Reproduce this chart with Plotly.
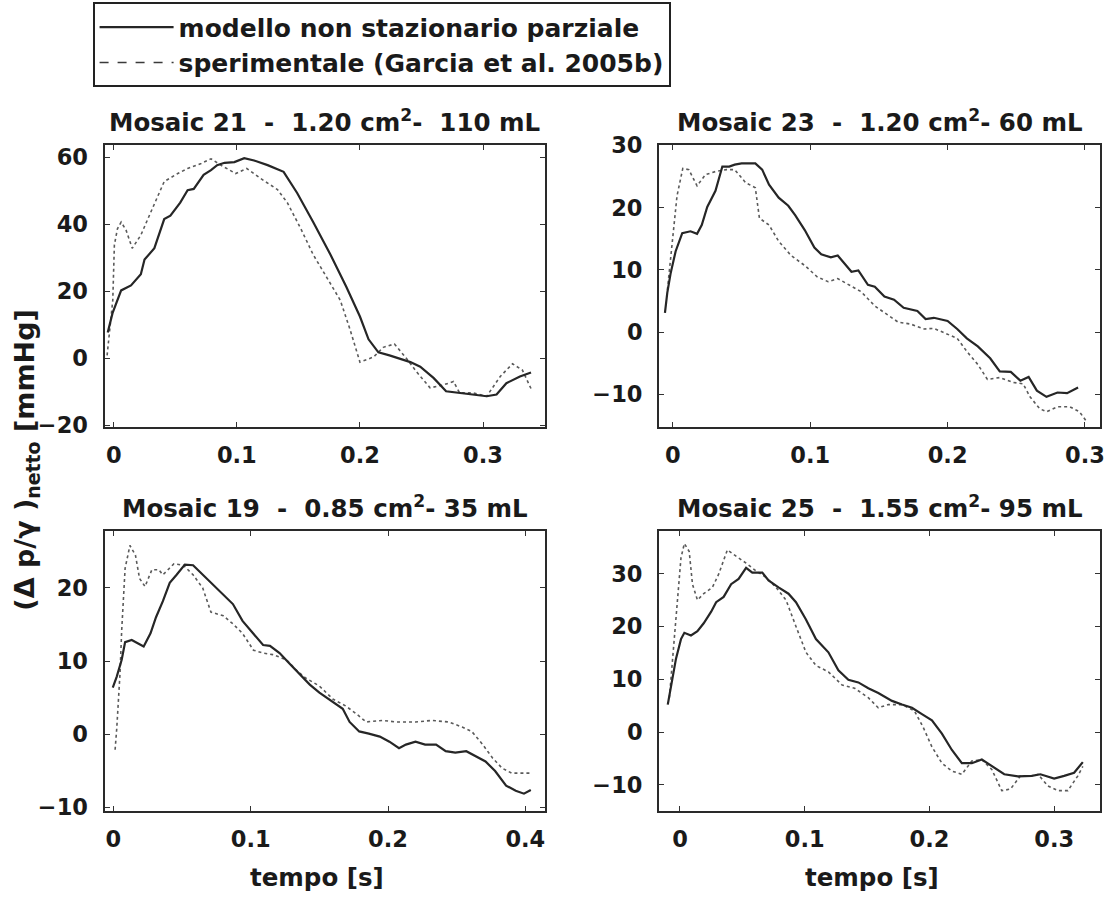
import plotly.graph_objects as go

# ---------------- data ----------------
# Mosaic 21
a_model_t = [-0.0049, -0.001, 0.006, 0.014, 0.022, 0.025, 0.033, 0.041, 0.046, 0.054, 0.060, 0.065, 0.073, 0.079,
             0.084, 0.090, 0.098, 0.106, 0.114, 0.125, 0.138, 0.149, 0.162, 0.176, 0.189, 0.200, 0.207, 0.215,
             0.224, 0.233, 0.241, 0.249, 0.260, 0.270, 0.281, 0.292, 0.303, 0.311, 0.319, 0.330, 0.339]
a_model_p = [7.6, 13.4, 20.2, 21.7, 25.0, 29.4, 32.8, 41.5, 42.5, 46.4, 50.1, 50.5, 54.7, 56.1,
             57.6, 58.3, 58.5, 59.7, 59.0, 57.6, 55.6, 49.3, 40.6, 30.9, 21.2, 12.4, 5.6, 1.7,
             0.8, -0.2, -1.2, -2.6, -6.0, -9.9, -10.4, -10.9, -11.4, -10.9, -7.5, -5.5, -4.3]
a_exp_t = [-0.0054, -0.0035, -0.0008, 0.0005, 0.003, 0.006, 0.010, 0.015, 0.022, 0.030, 0.036, 0.041, 0.052, 0.060,
           0.071, 0.079, 0.087, 0.099, 0.108, 0.119, 0.133, 0.141, 0.152, 0.162, 0.173, 0.184, 0.192, 0.200,
           0.211, 0.219, 0.228, 0.238, 0.246, 0.257, 0.268, 0.276, 0.281, 0.292, 0.303, 0.314, 0.324, 0.332, 0.340]
a_exp_p = [0.8, 7.6, 17.3, 33.8, 38.6, 40.6, 38.2, 32.8, 36.7, 43.5, 48.3, 52.7, 55.1, 56.6,
           58.1, 59.5, 57.6, 55.1, 56.6, 53.7, 50.3, 46.4, 38.6, 30.9, 24.1, 17.3, 8.5, -1.2,
           0.3, 3.2, 4.2, -0.2, -4.1, -8.9, -8.0, -7.0, -10.4, -10.4, -11.4, -5.5, -1.7, -3.6, -9.9]

# Mosaic 23
b_model_t = [-0.0058, -0.0041, -0.0017, 0.002, 0.0068, 0.0128, 0.0176, 0.021, 0.025, 0.031, 0.036, 0.041, 0.045,
             0.050, 0.060, 0.065, 0.070, 0.077, 0.084, 0.089, 0.096, 0.103, 0.108, 0.115, 0.120, 0.125, 0.130,
             0.135, 0.142, 0.147, 0.154, 0.161, 0.168, 0.178, 0.184, 0.190, 0.200, 0.207, 0.214, 0.222, 0.231,
             0.238, 0.246, 0.253, 0.259, 0.265, 0.272, 0.280, 0.287, 0.295]
b_model_p = [3.1, 6.3, 9.4, 13.0, 15.9, 16.2, 15.8, 17.2, 20.1, 22.7, 26.6, 26.6, 26.9,
             27.1, 27.1, 26.1, 23.7, 21.6, 20.3, 18.8, 16.4, 13.6, 12.5, 12.0, 12.3, 11.0, 9.7,
             9.9, 7.6, 7.3, 5.7, 5.2, 3.9, 3.4, 2.1, 2.3, 1.8, 0.5, -1.0, -2.3, -4.2,
             -6.3, -6.4, -7.8, -7.2, -9.4, -10.4, -9.7, -9.8, -8.9]
b_exp_t = [-0.004, -0.0005, 0.003, 0.0072, 0.0116, 0.0176, 0.0237, 0.031, 0.039, 0.045, 0.053, 0.060, 0.063,
           0.070, 0.077, 0.086, 0.096, 0.105, 0.113, 0.120, 0.130, 0.137, 0.147, 0.154, 0.164, 0.173, 0.183,
           0.190, 0.200, 0.207, 0.214, 0.222, 0.229, 0.238, 0.248, 0.255, 0.260, 0.267, 0.272, 0.280, 0.289,
           0.296, 0.301]
b_exp_p = [6.8, 14.1, 21.9, 26.3, 26.1, 23.5, 25.3, 25.8, 26.1, 26.1, 24.0, 23.2, 18.3,
           17.2, 14.6, 12.3, 10.7, 8.9, 8.1, 8.6, 7.3, 6.5, 4.2, 3.1, 1.6, 1.3, 0.5,
           0.6, -0.3, -1.0, -3.1, -5.2, -7.6, -7.3, -8.1, -8.3, -10.4, -12.3, -12.8, -12.0, -12.0,
           -12.8, -14.3]

# Mosaic 19
c_model_t = [-0.0005, 0.0024, 0.006, 0.0085, 0.0133, 0.018, 0.022, 0.027, 0.031, 0.036, 0.041, 0.046, 0.052,
             0.058, 0.065, 0.073, 0.080, 0.087, 0.094, 0.102, 0.109, 0.114, 0.121, 0.128, 0.136, 0.143, 0.150,
             0.157, 0.167, 0.172, 0.179, 0.186, 0.194, 0.201, 0.208, 0.213, 0.220, 0.227, 0.235, 0.242, 0.249,
             0.257, 0.264, 0.271, 0.278, 0.286, 0.293, 0.299, 0.304]
c_model_p = [6.4, 7.9, 10.2, 12.6, 12.9, 12.4, 12.0, 13.8, 16.0, 18.2, 20.7, 21.8, 23.2,
             23.1, 21.8, 20.4, 19.1, 17.8, 15.5, 13.8, 12.2, 12.1, 11.1, 9.7, 8.2, 6.8, 5.7,
             4.8, 3.5, 1.7, 0.4, 0.1, -0.3, -1.0, -1.9, -1.4, -1.0, -1.4, -1.4, -2.3, -2.5,
             -2.3, -3.0, -3.7, -5.0, -7.0, -7.7, -8.1, -7.6]
c_exp_t = [0.0012, 0.0024, 0.0048, 0.006, 0.0085, 0.012, 0.016, 0.019, 0.023, 0.028, 0.033, 0.036, 0.044,
           0.051, 0.058, 0.065, 0.071, 0.080, 0.087, 0.094, 0.102, 0.109, 0.116, 0.126, 0.133, 0.140, 0.150,
           0.160, 0.169, 0.177, 0.184, 0.196, 0.206, 0.220, 0.232, 0.244, 0.254, 0.261, 0.269, 0.276, 0.283,
           0.290, 0.298, 0.304]
c_exp_p = [-2.1, 0.8, 8.4, 14.2, 22.7, 25.8, 24.5, 21.3, 20.2, 22.5, 22.5, 21.8, 23.3,
           23.1, 21.8, 20.0, 16.7, 16.2, 15.1, 13.8, 11.5, 11.1, 10.9, 10.2, 8.8, 7.7, 6.6,
           4.8, 3.9, 2.8, 1.7, 1.9, 1.7, 1.7, 1.9, 1.7, 1.0, 0.4, -1.4, -3.2, -4.6,
           -5.3, -5.3, -5.3]

# Mosaic 25
d_model_t = [-0.0098, -0.0072, -0.0032, 0.0008, 0.0035, 0.0088, 0.014, 0.019, 0.025, 0.029, 0.035, 0.041, 0.047,
             0.053, 0.058, 0.066, 0.071, 0.079, 0.087, 0.093, 0.101, 0.109, 0.114, 0.119, 0.127, 0.135, 0.143,
             0.151, 0.159, 0.170, 0.178, 0.186, 0.194, 0.202, 0.210, 0.218, 0.226, 0.234, 0.242, 0.252, 0.260,
             0.271, 0.282, 0.289, 0.300, 0.308, 0.316, 0.323]
d_model_p = [5.2, 8.9, 13.9, 17.6, 18.8, 18.3, 19.1, 20.6, 22.8, 24.6, 25.6, 28.0, 29.0,
             31.1, 30.2, 30.2, 28.7, 27.4, 26.2, 24.6, 21.3, 17.6, 16.3, 15.1, 11.7, 9.9, 9.4,
             8.3, 7.4, 5.9, 5.2, 4.6, 3.4, 2.2, -0.3, -3.4, -5.9, -5.9, -5.2, -6.8, -8.0,
             -8.4, -8.3, -8.0, -8.8, -8.3, -7.7, -5.7]
d_exp_t = [-0.0085, -0.0059, -0.0037, -0.0019, 0.0008, 0.0035, 0.0074, 0.010, 0.014, 0.019, 0.026, 0.031, 0.038,
           0.045, 0.053, 0.061, 0.069, 0.077, 0.085, 0.093, 0.101, 0.109, 0.119, 0.130, 0.140, 0.151, 0.159,
           0.167, 0.178, 0.188, 0.195, 0.202, 0.210, 0.218, 0.226, 0.234, 0.242, 0.250, 0.258, 0.265, 0.273,
           0.282, 0.287, 0.295, 0.303, 0.311, 0.319, 0.323]
d_exp_p = [6.5, 13.9, 19.4, 26.2, 33.0, 35.7, 34.2, 28.0, 25.0, 26.2, 27.4, 29.9, 34.5,
           33.3, 32.0, 30.5, 29.3, 27.4, 25.0, 20.0, 15.1, 12.6, 11.4, 8.9, 8.3, 6.5, 4.6,
           5.2, 5.2, 4.0, 0.9, -2.8, -5.9, -7.4, -8.0, -5.5, -5.2, -7.1, -11.1, -10.8, -8.3,
           -8.3, -8.0, -10.2, -11.1, -11.1, -8.3, -6.5]

panel_titles = [
    "Mosaic 21\u00a0\u00a0-\u00a0\u00a01.20 cm<sup>2</sup>-\u00a0\u00a0110 mL",
    "Mosaic 23\u00a0\u00a0-\u00a0\u00a01.20 cm<sup>2</sup>- 60\u00a0mL",
    "Mosaic 19\u00a0\u00a0-\u00a0\u00a00.85 cm<sup>2</sup>- 35 mL",
    "Mosaic 25\u00a0\u00a0-\u00a0\u00a01.55 cm<sup>2</sup>- 95 mL",
]
series_names = ["modello non stazionario parziale", "sperimentale (Garcia et al. 2005b)"]
x_tickvals = [0, 0.1, 0.2, 0.3]
x_ticktext = [["0", "0.1", "0.2", "0.3"], ["0", "0.1", "0.2", "0.3"],
              ["0", "0.1", "0.2", "0.4"], ["0", "0.1", "0.2", "0.3"]]
y_tickvals = [[-20, 0, 20, 40, 60], [-10, 0, 10, 20, 30], [-10, 0, 10, 20], [-10, 0, 10, 20, 30]]
x_ranges = [[-0.0075, 0.35], [-0.0101, 0.311], [-0.0065, 0.314], [-0.0168, 0.3368]]
y_ranges = [[-20.5, 63.5], [-15.2, 30.0], [-10.5, 27.8], [-15.0, 38.1]]

panels = [
    (a_model_t, a_model_p, a_exp_t, a_exp_p),
    (b_model_t, b_model_p, b_exp_t, b_exp_p),
    (c_model_t, c_model_p, c_exp_t, c_exp_p),
    (d_model_t, d_model_p, d_exp_t, d_exp_p),
]

# ---------------- layout geometry ----------------
W, H = 1116, 904
x_doms = [[105 / W, 547 / W], [662 / W, 1105 / W], [105 / W, 547 / W], [662 / W, 1105 / W]]
y_doms = [[1 - 425 / H, 1 - 136 / H], [1 - 425 / H, 1 - 136 / H],
          [1 - 820 / H, 1 - 532 / H], [1 - 820 / H, 1 - 532 / H]]
title_y_px = [111, 111, 507, 507]

FONT = "DejaVu Sans"
TXT = "#1a1a1a"

fig = go.Figure()
for i, (mt, mp, et, ep) in enumerate(panels):
    suffix = "" if i == 0 else str(i + 1)
    fig.add_trace(go.Scatter(
        x=et, y=ep, mode="lines", name=series_names[1],
        line=dict(color="#5a5a5a", width=1.6, dash="dot"),
        xaxis="x" + suffix, yaxis="y" + suffix, showlegend=False, legendrank=2))
    fig.add_trace(go.Scatter(
        x=mt, y=mp, mode="lines", name=series_names[0],
        line=dict(color="#262626", width=2.2),
        xaxis="x" + suffix, yaxis="y" + suffix, showlegend=(i == 0), legendrank=1))
    if i == 0:
        fig.add_trace(go.Scatter(
            x=[None], y=[None], mode="lines", name=series_names[1],
            line=dict(color="#3a3a3a", width=1.6, dash="dash"),
            showlegend=True, legendrank=2))

axis_common = dict(showline=True, linecolor="#2a2a2a", linewidth=2, mirror="ticks",
                   ticks="inside", ticklen=5, tickwidth=1, tickcolor="#333",
                   showgrid=False, zeroline=False,
                   tickfont=dict(family=FONT, size=22.5, color=TXT, weight="bold"))

layout = dict(
    width=W, height=H, margin=dict(l=0, r=0, t=0, b=0),
    paper_bgcolor="white", plot_bgcolor="white",
    showlegend=True,
    legend=dict(x=93 / W, y=1 + 11 / H, xanchor="left", yanchor="top",
                bordercolor="#222", borderwidth=2, bgcolor="white",
                font=dict(family=FONT, size=25, color=TXT, weight="bold"),
                tracegroupgap=0, itemwidth=74),
)
annotations = []
for i in range(4):
    xk = "xaxis" if i == 0 else "xaxis%d" % (i + 1)
    yk = "yaxis" if i == 0 else "yaxis%d" % (i + 1)
    anchor_x = "y" if i == 0 else "y%d" % (i + 1)
    anchor_y = "x" if i == 0 else "x%d" % (i + 1)
    layout[xk] = dict(axis_common, domain=x_doms[i], range=x_ranges[i], anchor=anchor_x,
                      tickvals=x_tickvals, ticktext=x_ticktext[i], ticklabelstandoff=7)
    layout[yk] = dict(axis_common, domain=y_doms[i], range=y_ranges[i], anchor=anchor_y,
                      tickvals=y_tickvals[i], ticklabelstandoff=10)
    annotations.append(dict(
        text="<b>%s</b>" % panel_titles[i], xref="paper", yref="paper",
        x=sum(x_doms[i]) / 2, y=1 - title_y_px[i] / H, xanchor="center", yanchor="middle",
        showarrow=False, font=dict(family=FONT, size=24.5, color=TXT)))

for i in (2, 3):
    annotations.append(dict(
        text="<b>tempo [s]</b>", xref="paper", yref="paper",
        x=sum(x_doms[i]) / 2 - 8 / W, y=1 - 888 / H, xanchor="center", yanchor="middle",
        showarrow=False, font=dict(family=FONT, size=24.5, color=TXT)))

annotations.append(dict(
    text="<b>(\u0394 p/\u03b3 )<sub>netto</sub> [mmHg]</b>", xref="paper", yref="paper",
    x=27 / W, y=1 - 459 / H, xanchor="center", yanchor="middle", textangle=-90,
    showarrow=False, font=dict(family=FONT, size=27, color=TXT)))

layout["annotations"] = annotations
fig.update_layout(**layout)
fig.write_html("out.html")
